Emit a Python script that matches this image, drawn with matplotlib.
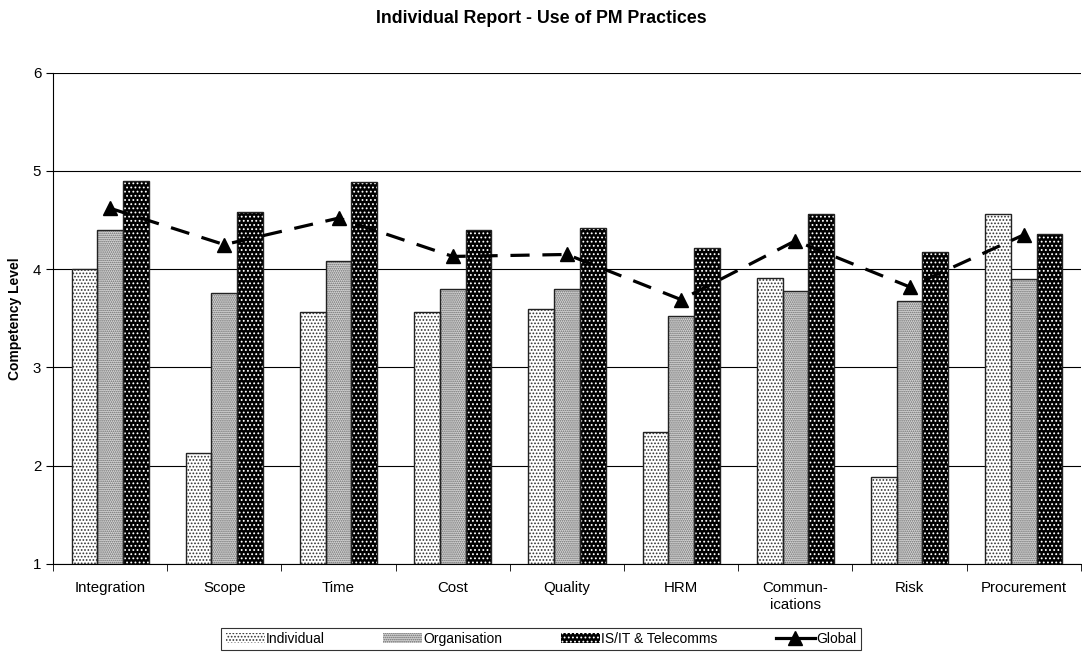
import numpy as np
import matplotlib.pyplot as plt
from matplotlib.patches import Patch
from matplotlib.lines import Line2D

plt.rcParams['font.family'] = ['Liberation Sans', 'DejaVu Sans']
plt.rcParams['hatch.linewidth'] = 0.8

categories = ['Integration', 'Scope', 'Time', 'Cost', 'Quality', 'HRM',
              'Commun-\nications', 'Risk', 'Procurement']
individual = [4.00, 2.13, 3.56, 3.56, 3.60, 2.34, 3.91, 1.89, 4.56]
organisation = [4.40, 3.76, 4.08, 3.80, 3.80, 3.52, 3.78, 3.68, 3.90]
is_it = [4.90, 4.58, 4.89, 4.40, 4.42, 4.22, 4.56, 4.18, 4.36]
global_avg = [4.62, 4.25, 4.52, 4.13, 4.15, 3.69, 4.29, 3.82, 4.35]

series = [
    ('Individual', individual, 'white', '#333333', '.....'),
    ('Organisation', organisation, '#d8d8d8', '#666666', '........'),
    ('IS/IT & Telecomms', is_it, 'black', 'white', '....'),
]

fig = plt.figure(figsize=(10.82, 6.55), dpi=100)
ax = fig.add_axes([0.049, 0.139, 0.95, 0.750])

x = np.arange(len(categories))
w = 0.225
base = 1
handles = []
for i, (name, vals, face, hcol, hatch) in enumerate(series):
    pos = x + (i - 1) * w
    heights = np.array(vals) - base
    # hatch colour follows edgecolor, so draw the fill and the outline separately
    ax.bar(pos, heights, w, bottom=base, color=face, edgecolor=hcol,
           hatch=hatch, linewidth=0, zorder=3)
    ax.bar(pos, heights, w, bottom=base, fill=False, edgecolor='#222222',
           linewidth=1.0, zorder=4)
    handles.append(Patch(facecolor=face, edgecolor=hcol, hatch=hatch,
                         linewidth=0, label=name))

ax.plot(x, global_avg, color='black', linestyle=(0, (6, 4)), linewidth=2.3,
        marker='^', markersize=9.5, zorder=5)
handles.append(Line2D([], [], color='black', linewidth=2.3, marker='^',
                      markersize=9.5, label='Global'))

ax.set_xlim(-0.5, len(categories) - 0.5)
ax.set_ylim(1, 6)
ax.set_yticks([1, 2, 3, 4, 5, 6])
ax.yaxis.grid(True, color='black', linewidth=0.8)
ax.set_axisbelow(True)
ax.set_xticks(x)
ax.set_xticklabels(categories, fontsize=10.8, linespacing=1.3)
ax.set_xticks(np.arange(len(categories) + 1) - 0.5, minor=True)
ax.tick_params(axis='x', which='major', length=0, pad=12)
ax.tick_params(axis='x', which='minor', length=5, direction='out')
ax.tick_params(axis='y', labelsize=10.8, length=5, direction='out')
for s in ['top', 'right']:
    ax.spines[s].set_visible(False)
ax.set_ylabel('Competency Level', fontsize=10, fontweight='bold', labelpad=8)

fig.suptitle('Individual Report - Use of PM Practices', y=0.972, va='center',
             fontsize=12.8, fontweight='bold')

leg = fig.legend(handles=handles, loc='center', bbox_to_anchor=(0.5, 0.0245),
                 ncol=4, frameon=True, fancybox=False, edgecolor='black',
                 fontsize=10, handlelength=2.8, handleheight=0.65,
                 handletextpad=0.1, columnspacing=4.2, borderpad=0.3)
leg.get_frame().set_linewidth(0.8)

fig.savefig('out.png', dpi=100, facecolor='white')
